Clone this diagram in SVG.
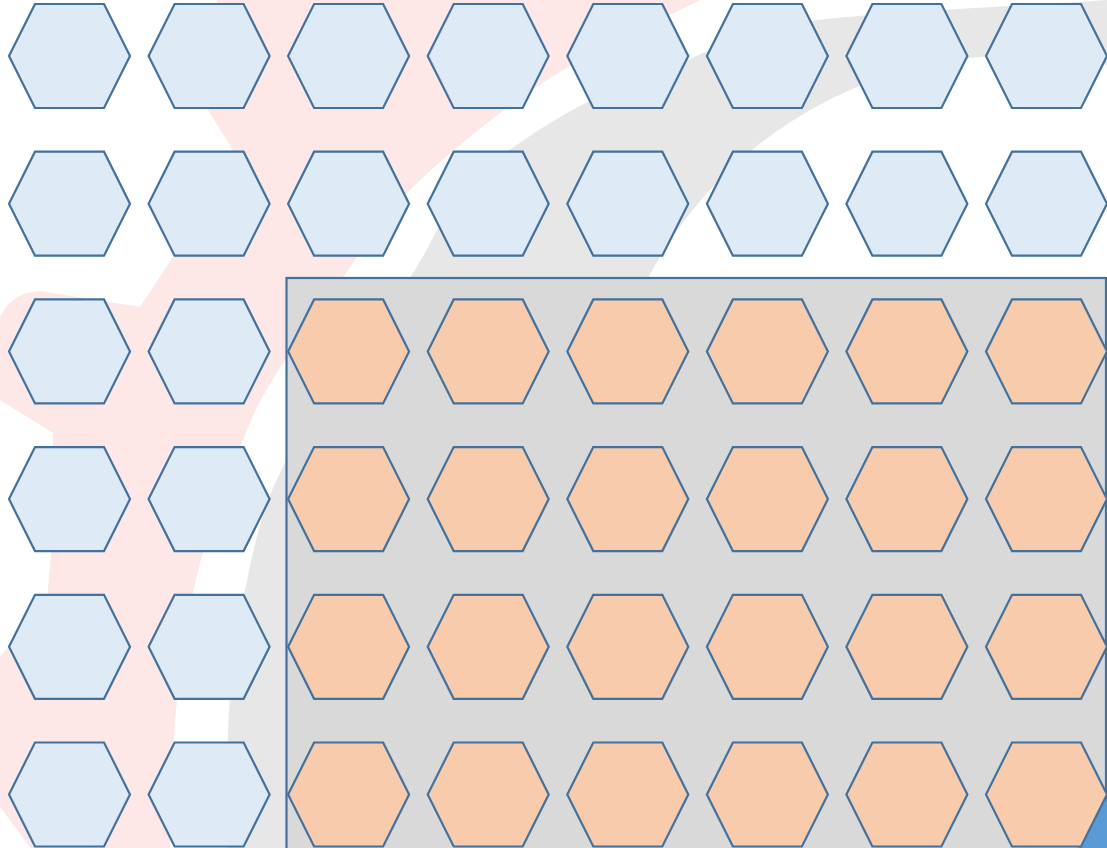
<svg xmlns="http://www.w3.org/2000/svg" xmlns:xlink="http://www.w3.org/1999/xlink" width="1107" height="848" viewBox="0 0 1107 848">
<style>
.hb{fill:#deeaf6;stroke:#41719c;stroke-width:2.2;stroke-linejoin:miter}
.ho{fill:#f8cbad;stroke:#41719c;stroke-width:2.2;stroke-linejoin:miter}
</style>
<defs>
<polygon id="hex" points="-60.5,0 -34.5,-52 34.5,-52 60.5,0 34.5,52 -34.5,52"/>
</defs>
<rect x="0" y="0" width="1107" height="848" fill="#ffffff"/>
<g id="background">
<path id="pink-band" fill="#fde7e7" d="M217,0 L700,0 C675,13 595,49 547,80 C499,111 447,154 413,187 C379,220 364,248 343,277 C322,306 301,335 285,360 C269,386 261,396 247,430 C233,464 212,518 200,563 C188,608 182,652 177,700 C172,748 171,823 170,850 L32,850 L0,807 L-10,807 L-10,657 L0,657 L47,600 L53,533 L53,433 L0,400 L-10,400 L-10,317 L0,317 Q12,292 40,291 L140,307 L173,257 L233,150 L208,110 Z"/>
<path id="gray-band" fill="#e7e7e7" d="M1107,0 C1056,4 870,12 800,22 C730,32 726,45 687,60 C648,75 604,92 567,113 C530,134 493,160 467,187 C441,214 434,241 413,273 C392,305 362,348 340,380 C318,412 297,438 283,467 C268,496 262,515 253,553 C244,591 234,648 230,697 C226,746 227.5,823 227,850 L700,850 L600,480 A417,417 0 0 1 1107,65 Z"/>
</g>
<g id="panel">
<rect x="286.5" y="278" width="819.5" height="600" fill="#d9d9d9" stroke="#41719c" stroke-width="2.2"/>
<polygon points="1092,815 1107,799 1107,848 1078,848" fill="#5b9bd5"/>
</g>
<g id="connectors"></g>
<g id="nodes">
<g id="hex-r0c0" transform="translate(69.5,56)"><use xlink:href="#hex" class="hb"/></g>
<g id="hex-r0c1" transform="translate(209.1,56)"><use xlink:href="#hex" class="hb"/></g>
<g id="hex-r0c2" transform="translate(348.6,56)"><use xlink:href="#hex" class="hb"/></g>
<g id="hex-r0c3" transform="translate(488.2,56)"><use xlink:href="#hex" class="hb"/></g>
<g id="hex-r0c4" transform="translate(627.8,56)"><use xlink:href="#hex" class="hb"/></g>
<g id="hex-r0c5" transform="translate(767.4,56)"><use xlink:href="#hex" class="hb"/></g>
<g id="hex-r0c6" transform="translate(906.9,56)"><use xlink:href="#hex" class="hb"/></g>
<g id="hex-r0c7" transform="translate(1046.5,56)"><use xlink:href="#hex" class="hb"/></g>
<g id="hex-r1c0" transform="translate(69.5,203.7)"><use xlink:href="#hex" class="hb"/></g>
<g id="hex-r1c1" transform="translate(209.1,203.7)"><use xlink:href="#hex" class="hb"/></g>
<g id="hex-r1c2" transform="translate(348.6,203.7)"><use xlink:href="#hex" class="hb"/></g>
<g id="hex-r1c3" transform="translate(488.2,203.7)"><use xlink:href="#hex" class="hb"/></g>
<g id="hex-r1c4" transform="translate(627.8,203.7)"><use xlink:href="#hex" class="hb"/></g>
<g id="hex-r1c5" transform="translate(767.4,203.7)"><use xlink:href="#hex" class="hb"/></g>
<g id="hex-r1c6" transform="translate(906.9,203.7)"><use xlink:href="#hex" class="hb"/></g>
<g id="hex-r1c7" transform="translate(1046.5,203.7)"><use xlink:href="#hex" class="hb"/></g>
<g id="hex-r2c0" transform="translate(69.5,351.4)"><use xlink:href="#hex" class="hb"/></g>
<g id="hex-r2c1" transform="translate(209.1,351.4)"><use xlink:href="#hex" class="hb"/></g>
<g id="hex-r2c2" transform="translate(348.6,351.4)"><use xlink:href="#hex" class="ho"/></g>
<g id="hex-r2c3" transform="translate(488.2,351.4)"><use xlink:href="#hex" class="ho"/></g>
<g id="hex-r2c4" transform="translate(627.8,351.4)"><use xlink:href="#hex" class="ho"/></g>
<g id="hex-r2c5" transform="translate(767.4,351.4)"><use xlink:href="#hex" class="ho"/></g>
<g id="hex-r2c6" transform="translate(906.9,351.4)"><use xlink:href="#hex" class="ho"/></g>
<g id="hex-r2c7" transform="translate(1046.5,351.4)"><use xlink:href="#hex" class="ho"/></g>
<g id="hex-r3c0" transform="translate(69.5,499.1)"><use xlink:href="#hex" class="hb"/></g>
<g id="hex-r3c1" transform="translate(209.1,499.1)"><use xlink:href="#hex" class="hb"/></g>
<g id="hex-r3c2" transform="translate(348.6,499.1)"><use xlink:href="#hex" class="ho"/></g>
<g id="hex-r3c3" transform="translate(488.2,499.1)"><use xlink:href="#hex" class="ho"/></g>
<g id="hex-r3c4" transform="translate(627.8,499.1)"><use xlink:href="#hex" class="ho"/></g>
<g id="hex-r3c5" transform="translate(767.4,499.1)"><use xlink:href="#hex" class="ho"/></g>
<g id="hex-r3c6" transform="translate(906.9,499.1)"><use xlink:href="#hex" class="ho"/></g>
<g id="hex-r3c7" transform="translate(1046.5,499.1)"><use xlink:href="#hex" class="ho"/></g>
<g id="hex-r4c0" transform="translate(69.5,646.8)"><use xlink:href="#hex" class="hb"/></g>
<g id="hex-r4c1" transform="translate(209.1,646.8)"><use xlink:href="#hex" class="hb"/></g>
<g id="hex-r4c2" transform="translate(348.6,646.8)"><use xlink:href="#hex" class="ho"/></g>
<g id="hex-r4c3" transform="translate(488.2,646.8)"><use xlink:href="#hex" class="ho"/></g>
<g id="hex-r4c4" transform="translate(627.8,646.8)"><use xlink:href="#hex" class="ho"/></g>
<g id="hex-r4c5" transform="translate(767.4,646.8)"><use xlink:href="#hex" class="ho"/></g>
<g id="hex-r4c6" transform="translate(906.9,646.8)"><use xlink:href="#hex" class="ho"/></g>
<g id="hex-r4c7" transform="translate(1046.5,646.8)"><use xlink:href="#hex" class="ho"/></g>
<g id="hex-r5c0" transform="translate(69.5,794.5)"><use xlink:href="#hex" class="hb"/></g>
<g id="hex-r5c1" transform="translate(209.1,794.5)"><use xlink:href="#hex" class="hb"/></g>
<g id="hex-r5c2" transform="translate(348.6,794.5)"><use xlink:href="#hex" class="ho"/></g>
<g id="hex-r5c3" transform="translate(488.2,794.5)"><use xlink:href="#hex" class="ho"/></g>
<g id="hex-r5c4" transform="translate(627.8,794.5)"><use xlink:href="#hex" class="ho"/></g>
<g id="hex-r5c5" transform="translate(767.4,794.5)"><use xlink:href="#hex" class="ho"/></g>
<g id="hex-r5c6" transform="translate(906.9,794.5)"><use xlink:href="#hex" class="ho"/></g>
<g id="hex-r5c7" transform="translate(1046.5,794.5)"><use xlink:href="#hex" class="ho"/></g>
</g>
</svg>
